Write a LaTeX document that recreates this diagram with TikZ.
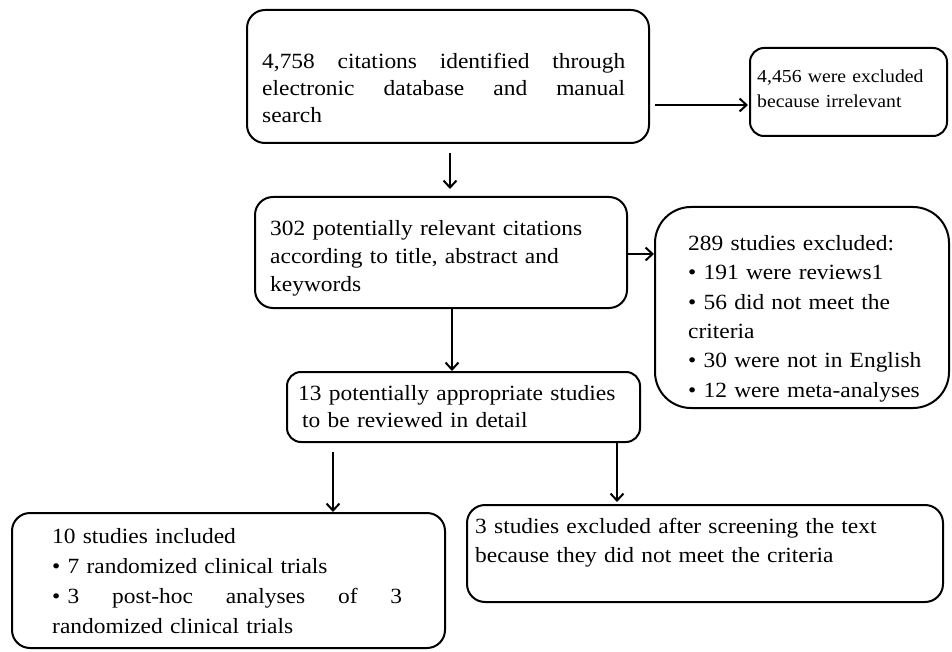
\documentclass[tikz,border=0pt]{standalone}
\usepackage{fontspec}
\setmainfont[FakeStretch=1.08]{Liberation Serif}
\usetikzlibrary{arrows.meta}
\newcommand{\spreadline}[2]{\leavevmode\hbox to #1{#2}}
\begin{document}
\begin{tikzpicture}[x=1pt,y=-1pt,
  box/.style={draw, line width=2pt, rounded corners=18pt, inner sep=0pt},
  txt/.style={anchor=north west, inner sep=0pt},
  arr/.style={line width=2pt, -{Straight Barb[length=7pt,width=13pt,line width=2pt]}}]
\useasboundingbox (0,0) rectangle (952,652);
% boxes
\node[box, minimum width=402pt, minimum height=133pt] (b1) at (448,76.5) {};
\node[box, rounded corners=14pt, minimum width=197pt, minimum height=88pt] (b2) at (848.5,92) {};
\node[box, minimum width=372pt, minimum height=111pt] (b3) at (441,252.5) {};
\node[box, rounded corners=36pt, minimum width=294pt, minimum height=201pt] (b4) at (802,307.5) {};
\node[box, rounded corners=14pt, minimum width=353pt, minimum height=70pt] (b5) at (463.5,407) {};
\node[box, minimum width=433pt, minimum height=135pt] (b6) at (228.5,580.5) {};
\node[box, minimum width=476pt, minimum height=97pt] (b7) at (705,553.5) {};
% texts
\node[txt, text width=363pt, align=left, font=\fontsize{21.7}{27}\selectfont] (t1) at (262,53)
  {\spreadline{363pt}{4,758\hfill citations\hfill identified\hfill through}\\
   \spreadline{363pt}{electronic\hfill database\hfill and\hfill manual}\\search};
\node[txt, text width=185pt, align=left, font=\fontsize{18.3}{25}\selectfont] (t2) at (757,70)
  {4,456 were excluded\\because irrelevant};
\node[txt, text width=350pt, align=left, font=\fontsize{21.7}{28}\selectfont] (t3) at (270,220)
  {302 potentially relevant citations\\according to title, abstract and\\keywords};
\node[txt, text width=280pt, align=left, font=\fontsize{21.7}{29.4}\selectfont] (t4) at (688,235)
  {289 studies excluded:\\\textbullet\ 191 were reviews1\\\textbullet\ 56 did not meet the\\criteria\\\textbullet\ 30 were not in English\\\textbullet\ 12 were meta-analyses};
\node[txt, text width=345pt, align=left, font=\fontsize{21.7}{27}\selectfont] (t5) at (298,385)
  {13 potentially appropriate studies\\\hspace*{4pt}to be reviewed in detail};
\node[txt, text width=350pt, align=left, font=\fontsize{21.7}{30}\selectfont] (t6) at (52,528)
  {10 studies included\\\textbullet\ 7 randomized clinical trials\\
   \spreadline{350pt}{\textbullet\ 3\hfill post-hoc\hfill analyses\hfill of\hfill 3}\\randomized clinical trials};
\node[txt, text width=465pt, align=left, font=\fontsize{21.7}{29}\selectfont] (t7) at (475,518)
  {3 studies excluded after screening the text\\because they did not meet the criteria};
% helper coordinates
\coordinate (y105) at (0,105);
\coordinate (y254) at (0,254);
\coordinate (x450) at (450,0);
\coordinate (x452) at (452,0);
\coordinate (x333) at (333,0);
\coordinate (x617) at (617,0);
% connectors
\draw[arr] ([xshift=5pt]b1.east |- y105) -- ([xshift=-1pt]b2.west |- y105);
\draw[arr] ([yshift=-9pt]b1.south -| x450) -- ([yshift=7pt]b3.north -| x450);
\draw[arr] (b3.east |- y254) -- (b4.west |- y254);
\draw[arr] (b3.south -| x452) -- (b5.north -| x452);
\draw[arr] ([yshift=-9pt]b5.south -| x333) -- (b6.north -| x333);
\draw[arr] (b5.south -| x617) -- ([yshift=2pt]b7.north -| x617);
\end{tikzpicture}
\end{document}
